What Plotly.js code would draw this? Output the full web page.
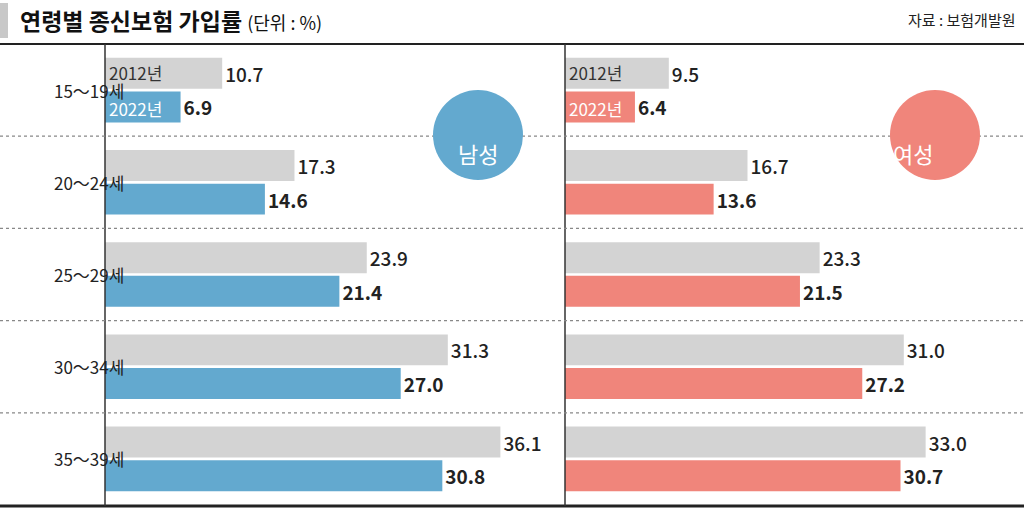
<!DOCTYPE html><html><head><meta charset="utf-8"><script src="https://cdn.plot.ly/plotly-3.0.1.min.js"></script>
<style>body{margin:0;background:#fff}</style></head><body><div id="c" style="width:1024px;height:509px"></div><script>
var ages=['15～19세','20～24세','25～29세','30～34세','35～39세'];
var male2012=[10.7,17.3,23.9,31.3,36.1];
var male2022=[6.9,14.6,21.4,27.0,30.8];
var female2012=[9.5,16.7,23.3,31.0,33.0];
var female2022=[6.4,13.6,21.5,27.2,30.7];
var F='"Noto Sans CJK KR", sans-serif';
var grey='#d3d3d3',blue='#63a9cf',red='#f0857b';
function tr(x,vals,col,bold){return {type:'bar',orientation:'h',y:ages,x:vals,xaxis:x,yaxis:x=='x'?'y':'y2',marker:{color:col},
 text:vals.map(v=>v.toFixed(1)),textposition:'outside',cliponaxis:false,
 textfont:{family:F,size:19,color:'#222',weight:bold?700:500},hoverinfo:'skip'};}
var data=[tr('x',male2012,grey,false),tr('x',male2022,blue,true),tr('x2',female2012,grey,false),tr('x2',female2022,red,true)];
var ann=[],shapes=[];
function py(p){return 1-p/509;} function px(p){return p/1024;}
ages.forEach(function(a){ann.push({xref:'paper',yref:'y',x:px(52),y:a,text:a,showarrow:false,font:{family:F,size:17,color:'#222'}});});
[['x','y'],['x2','y2']].forEach(function(p){
 ann.push({xref:p[0],yref:p[1],x:0,y:ages[0],yshift:18,xanchor:'left',xshift:2,text:'2012년',showarrow:false,font:{family:F,size:17,color:'#333'}});
 ann.push({xref:p[0],yref:p[1],x:0,y:ages[0],yshift:-18,xanchor:'left',xshift:2,text:'2022년',showarrow:false,font:{family:F,size:17,color:'#fff'}});
});
ann.push({xref:'paper',yref:'paper',x:px(18),y:py(20),yanchor:'middle',xanchor:'left',showarrow:false,text:'<b>연령별 종신보험 가입률</b> <span style="font-size:18px">(단위 : %)</span>',font:{family:F,size:23,color:'#111'}});
ann.push({xref:'paper',yref:'paper',x:px(1018),y:py(20),yanchor:'middle',xanchor:'right',showarrow:false,text:'자료 : 보험개발원',font:{family:F,size:15,color:'#222'}});
shapes.push({type:'rect',xref:'paper',yref:'paper',x0:0,x1:px(8),y0:py(38),y1:py(3),fillcolor:'#c8c8c8',line:{width:0}});
shapes.push({type:'line',xref:'paper',yref:'paper',x0:0,x1:1,y0:py(44),y1:py(44),line:{color:'#222',width:2}});
shapes.push({type:'line',xref:'paper',yref:'paper',x0:0,x1:1,y0:py(506),y1:py(506),line:{color:'#222',width:3}});
shapes.push({type:'line',xref:'paper',yref:'paper',x0:px(105),x1:px(105),y0:py(506),y1:py(44),line:{color:'#333',width:1.5}});
shapes.push({type:'line',xref:'paper',yref:'paper',x0:px(565),x1:px(565),y0:py(506),y1:py(44),line:{color:'#333',width:1.5}});
[0.5,1.5,2.5,3.5].forEach(function(v){shapes.push({type:'line',xref:'paper',yref:'y',x0:0,x1:1,y0:v,y1:v,line:{color:'#888',width:1.2,dash:'dot'}});});
shapes.push({type:'circle',xref:'paper',yref:'paper',x0:px(433),x1:px(523),y0:py(180),y1:py(90),fillcolor:blue,line:{width:0}});
shapes.push({type:'circle',xref:'paper',yref:'paper',x0:px(890),x1:px(980),y0:py(180),y1:py(90),fillcolor:red,line:{width:0}});
ann.push({xref:'paper',yref:'paper',x:px(478),y:py(135),showarrow:false,text:'남성',font:{family:F,size:22,color:'#fff'}});
ann.push({xref:'paper',yref:'paper',x:px(935),y:py(135),showarrow:false,text:'여성',font:{family:F,size:22,color:'#fff'}});
var ax={range:[0,42],showgrid:false,zeroline:false,showticklabels:false,fixedrange:true};
var ay={autorange:'reversed',showticklabels:false,showgrid:false,zeroline:false,ticks:'',domain:[4/509,1-44/509]};
Plotly.newPlot('c',data,{width:1024,height:509,margin:{l:0,r:0,t:0,b:0},showlegend:false,barmode:'group',bargap:0.27,bargroupgap:0.08,
 paper_bgcolor:'#fff',plot_bgcolor:'#fff',
 xaxis:Object.assign({domain:[105/1024,565/1024]},ax),xaxis2:Object.assign({domain:[565/1024,1]},ax),
 yaxis:Object.assign({anchor:'x'},ay),yaxis2:Object.assign({anchor:'x2',matches:'y'},ay),
 annotations:ann,shapes:shapes},{staticPlot:true});
</script></body></html>
